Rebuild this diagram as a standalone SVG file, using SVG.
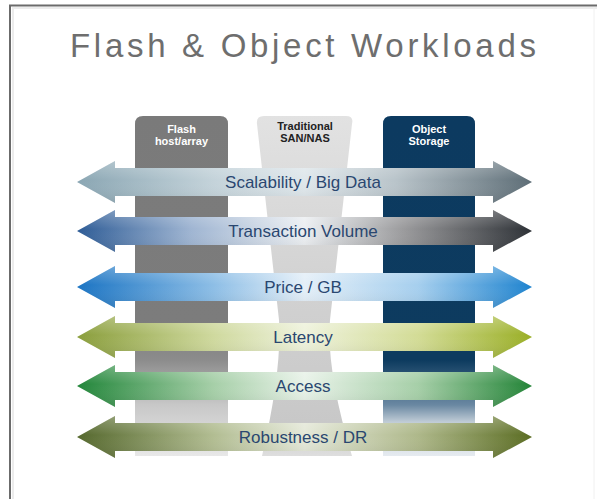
<svg xmlns="http://www.w3.org/2000/svg" width="597" height="499" viewBox="0 0 597 499">
<style>
.title{font-family:"Liberation Sans",Arial,sans-serif;font-size:33px;fill:#6e6e6e;letter-spacing:3.7px}
.hdr{font-family:"Liberation Sans",Arial,sans-serif;font-size:11px;font-weight:bold;text-anchor:middle}
.lbl{font-family:"Liberation Sans",Arial,sans-serif;font-size:17px;fill:#2a4770;text-anchor:middle}
</style>
<defs>
<linearGradient id="gFlash" x1="0" y1="116" x2="0" y2="456" gradientUnits="userSpaceOnUse">
<stop offset="0" stop-color="#7a7a7a"/><stop offset="0.6" stop-color="#7c7c7c"/><stop offset="0.718" stop-color="#8c8c8c"/><stop offset="0.85" stop-color="#c8c8c8"/><stop offset="1" stop-color="#e8e8e8"/>
</linearGradient>
<linearGradient id="gObj" x1="0" y1="116" x2="0" y2="456" gradientUnits="userSpaceOnUse">
<stop offset="0" stop-color="#0c3a60"/><stop offset="0.718" stop-color="#0d3b5f"/><stop offset="0.85" stop-color="#6a88a2"/><stop offset="0.9" stop-color="#c0ccd6"/><stop offset="1" stop-color="#e6ebf0"/>
</linearGradient>
<linearGradient id="gTrad" x1="0" y1="116" x2="0" y2="456" gradientUnits="userSpaceOnUse">
<stop offset="0" stop-color="#e2e2e2"/><stop offset="0.5" stop-color="#d2d2d2"/><stop offset="0.9" stop-color="#c8c8c8"/><stop offset="1" stop-color="#dedede"/>
</linearGradient>
<linearGradient id="a1" x1="77" y1="0" x2="532" y2="0" gradientUnits="userSpaceOnUse">
<stop offset="0" stop-color="#8aa6b3"/><stop offset="0.3" stop-color="#c4d3da"/><stop offset="0.5" stop-color="#dfe7eb"/><stop offset="0.7" stop-color="#b9c4ca"/><stop offset="1" stop-color="#5d6d76"/>
</linearGradient>
<linearGradient id="a2" x1="77" y1="0" x2="532" y2="0" gradientUnits="userSpaceOnUse">
<stop offset="0" stop-color="#2e5c96"/><stop offset="0.25" stop-color="#9fb5d2"/><stop offset="0.5" stop-color="#eceff2"/><stop offset="0.72" stop-color="#9a9a9c"/><stop offset="1" stop-color="#2d3136"/>
</linearGradient>
<linearGradient id="a3" x1="77" y1="0" x2="532" y2="0" gradientUnits="userSpaceOnUse">
<stop offset="0" stop-color="#1b74c3"/><stop offset="0.3" stop-color="#8dbee6"/><stop offset="0.5" stop-color="#e4eff8"/><stop offset="0.75" stop-color="#a6cfee"/><stop offset="1" stop-color="#1e83cf"/>
</linearGradient>
<linearGradient id="a4" x1="77" y1="0" x2="532" y2="0" gradientUnits="userSpaceOnUse">
<stop offset="0" stop-color="#8a9e3c"/><stop offset="0.3" stop-color="#cfd99e"/><stop offset="0.5" stop-color="#eef2dc"/><stop offset="0.75" stop-color="#d3dc96"/><stop offset="1" stop-color="#9aaf26"/>
</linearGradient>
<linearGradient id="a5" x1="77" y1="0" x2="532" y2="0" gradientUnits="userSpaceOnUse">
<stop offset="0" stop-color="#22863a"/><stop offset="0.3" stop-color="#a6cfa8"/><stop offset="0.5" stop-color="#e8f2e8"/><stop offset="0.75" stop-color="#a6cfa8"/><stop offset="1" stop-color="#238437"/>
</linearGradient>
<linearGradient id="a6" x1="77" y1="0" x2="532" y2="0" gradientUnits="userSpaceOnUse">
<stop offset="0" stop-color="#55682d"/><stop offset="0.3" stop-color="#b2bd92"/><stop offset="0.5" stop-color="#e4e8d8"/><stop offset="0.75" stop-color="#aeb88a"/><stop offset="1" stop-color="#5b6d23"/>
</linearGradient>
<linearGradient id="shade" x1="0" y1="0" x2="0" y2="1">
<stop offset="0" stop-color="#ffffff" stop-opacity="0.25"/><stop offset="0.45" stop-color="#ffffff" stop-opacity="0"/><stop offset="1" stop-color="#000000" stop-opacity="0.08"/>
</linearGradient>
<path id="arrow" d="M77,0 L115,-21 L115,-14 L493,-14 L493,-21 L532,0 L493,21 L493,14 L115,14 L115,21 Z"/>
</defs>
<rect width="597" height="499" fill="#ffffff"/>
<g id="frame">
<line x1="12.5" y1="8" x2="597" y2="8" stroke="#ececec" stroke-width="2"/>
<line x1="13" y1="7" x2="13" y2="499" stroke="#ececec" stroke-width="2"/>
<line x1="9" y1="5.5" x2="597" y2="5.5" stroke="#6b6b6b" stroke-width="2"/>
<line x1="10" y1="5" x2="10" y2="499" stroke="#6b6b6b" stroke-width="2"/>
<line x1="594" y1="7" x2="594" y2="499" stroke="#f0f0f0" stroke-width="1"/>
</g>
<text class="title" x="70" y="57">Flash &amp; Object Workloads</text>
<g id="col-flash">
<path d="M135,456 L135,124 Q135,116 143,116 L220,116 Q228,116 228,124 L228,456 Z" fill="url(#gFlash)"/>
<text class="hdr" x="181.5" y="133" fill="#ffffff">Flash</text>
<text class="hdr" x="181.5" y="145" fill="#ffffff">host/array</text>
</g>
<g id="col-traditional">
<path d="M257,124 Q256,116 264,116 L346,116 Q354,116 352,124 L330,320 Q326,370 352,456 L262,456 Q282,370 279,320 Z" fill="url(#gTrad)"/>
<text class="hdr" x="305" y="130" fill="#222222">Traditional</text>
<text class="hdr" x="305" y="142" fill="#222222">SAN/NAS</text>
</g>
<g id="col-object">
<path d="M383,456 L383,124 Q383,116 391,116 L467,116 Q475,116 475,124 L475,456 Z" fill="url(#gObj)"/>
<text class="hdr" x="429" y="133" fill="#ffffff">Object</text>
<text class="hdr" x="429" y="145" fill="#ffffff">Storage</text>
</g>
<g id="connectors">
<g id="arrow-scalability" transform="translate(0,182)">
<use href="#arrow" fill="url(#a1)"/><use href="#arrow" fill="url(#shade)"/>
<text class="lbl" x="303" y="6">Scalability / Big Data</text>
</g>
<g id="arrow-transaction" transform="translate(0,231)">
<use href="#arrow" fill="url(#a2)"/><use href="#arrow" fill="url(#shade)"/>
<text class="lbl" x="303" y="6">Transaction Volume</text>
</g>
<g id="arrow-price" transform="translate(0,287)">
<use href="#arrow" fill="url(#a3)"/><use href="#arrow" fill="url(#shade)"/>
<text class="lbl" x="303" y="6">Price / GB</text>
</g>
<g id="arrow-latency" transform="translate(0,337)">
<use href="#arrow" fill="url(#a4)"/><use href="#arrow" fill="url(#shade)"/>
<text class="lbl" x="303" y="6">Latency</text>
</g>
<g id="arrow-access" transform="translate(0,386)">
<use href="#arrow" fill="url(#a5)"/><use href="#arrow" fill="url(#shade)"/>
<text class="lbl" x="303" y="6">Access</text>
</g>
<g id="arrow-robustness" transform="translate(0,437)">
<use href="#arrow" fill="url(#a6)"/><use href="#arrow" fill="url(#shade)"/>
<text class="lbl" x="303" y="6">Robustness / DR</text>
</g>
</g>
</svg>
